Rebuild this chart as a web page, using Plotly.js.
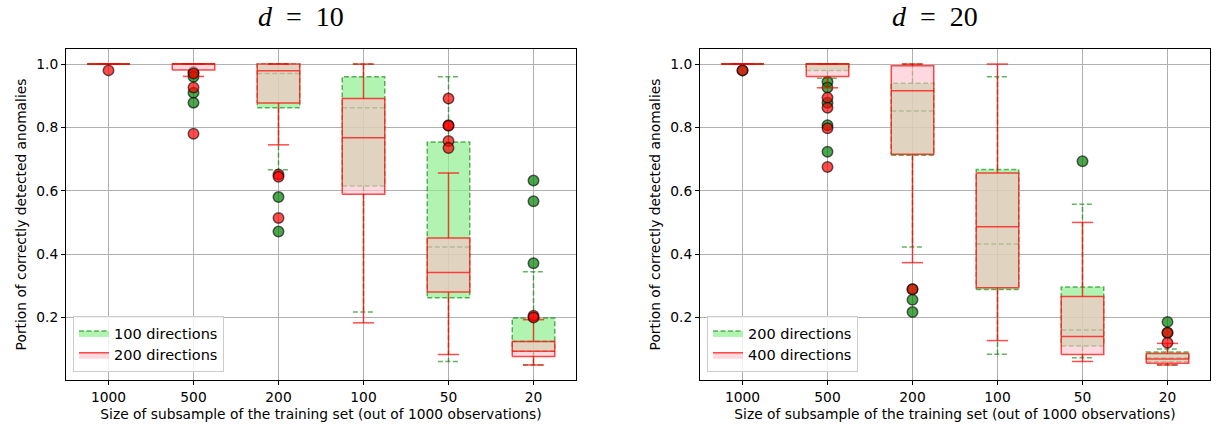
<!DOCTYPE html>
<html>
<head>
<meta charset="utf-8">
<script src="https://cdn.plot.ly/plotly-3.0.1.min.js"></script>
<style>html,body{margin:0;padding:0;background:#fff;}#chart{width:1219px;height:430px;}</style>
</head>
<body>
<div id="chart"></div>
<script>
// ---------- DATA ----------
const categories = ['1000', '500', '200', '100', '50', '20'];
const subplotTitles = ['<i>d</i>\u00a0\u00a0=\u00a0\u00a010', '<i>d</i>\u00a0\u00a0=\u00a0\u00a020'];
const seriesNames10 = ['100 directions', '200 directions'];
const seriesNames20 = ['200 directions', '400 directions'];

// d = 10, 100 directions (green)
const g10_q1  = [1.0, 1.0, 0.862, 0.615, 0.262, 0.093];
const g10_med = [1.0, 1.0, 0.970, 0.862, 0.422, 0.124];
const g10_q3  = [1.0, 1.0, 1.0, 0.960, 0.754, 0.198];
const g10_lo  = [1.0, 1.0, 0.666, 0.217, 0.061, 0.050];
const g10_hi  = [1.0, 1.0, 1.0, 1.0, 0.960, 0.344];
const g10_out = [[], [0.975, 0.960, 0.909, 0.878], [0.580, 0.471], [], [], [0.632, 0.567, 0.371]];

// d = 10, 200 directions (red)
const r10_q1  = [1.0, 0.981, 0.877, 0.589, 0.280, 0.077];
const r10_med = [1.0, 1.0, 0.979, 0.767, 0.342, 0.093];
const r10_q3  = [1.0, 1.0, 1.0, 0.891, 0.451, 0.124];
const r10_lo  = [1.0, 0.961, 0.745, 0.183, 0.083, 0.050];
const r10_hi  = [1.0, 1.0, 1.0, 1.0, 0.656, 0.193];
const r10_out = [[0.980], [0.970, 0.926, 0.780], [0.651, 0.644, 0.514], [], [0.891, 0.807, 0.805, 0.757, 0.735], [0.205, 0.200]];

// d = 20, 200 directions (green)
const g20_q1  = [1.0, 0.980, 0.712, 0.288, 0.110, 0.060];
const g20_med = [1.0, 1.0, 0.852, 0.432, 0.160, 0.072];
const g20_q3  = [1.0, 1.0, 0.939, 0.667, 0.296, 0.091];
const g20_lo  = [1.0, 0.955, 0.422, 0.084, 0.073, 0.050];
const g20_hi  = [1.0, 1.0, 1.0, 0.960, 0.557, 0.100];
const g20_out = [[0.980], [0.944, 0.926, 0.878, 0.807, 0.723], [0.289, 0.256, 0.217], [], [0.693], [0.186, 0.152]];

// d = 20, 400 directions (red)
const r20_q1  = [1.0, 0.961, 0.715, 0.294, 0.083, 0.055];
const r20_med = [1.0, 1.0, 0.916, 0.486, 0.140, 0.069];
const r20_q3  = [1.0, 1.0, 0.995, 0.656, 0.266, 0.086];
const r20_lo  = [1.0, 0.925, 0.373, 0.127, 0.061, 0.050];
const r20_hi  = [1.0, 1.0, 1.0, 1.0, 0.500, 0.118];
const r20_out = [[0.980], [0.894, 0.862, 0.797, 0.675], [0.289], [], [], [0.152, 0.120]];

const yTicks = [0.2, 0.4, 0.6, 0.8, 1.0];

// ---------- STYLES ----------
const GREEN = {
  fill: 'rgba(144,238,144,0.7)', line: 'rgba(0,128,0,0.6)', dash: '5px,2.5px',
  marker: 'rgba(0,128,0,0.7)', width: 1.5
};
const RED = {
  fill: 'rgba(255,192,203,0.6)', line: 'rgba(255,0,0,0.7)', dash: 'solid',
  marker: 'rgba(255,0,0,0.7)', width: 1.5
};
const HW = 0.25, CW = 0.125;

function seriesTraces(q1, med, q3, lo, hi, out, st, xa, ya, name, legend) {
  const bx = [], by = [], wx = [], wy = [], mx = [], my = [], ox = [], oy = [];
  categories.forEach((c, i) => {
    const p = i + 1;
    bx.push(p - HW, p + HW, p + HW, p - HW, p - HW, null);
    by.push(q1[i], q1[i], q3[i], q3[i], q1[i], null);
    wx.push(p, p, null, p, p, null, p - CW, p + CW, null, p - CW, p + CW, null);
    wy.push(q1[i], lo[i], null, q3[i], hi[i], null, lo[i], lo[i], null, hi[i], hi[i], null);
    mx.push(p - HW, p + HW, null);
    my.push(med[i], med[i], null);
    out[i].forEach(v => { ox.push(p); oy.push(v); });
  });
  const ln = {color: st.line, width: st.width, dash: st.dash};
  return [
    {type: 'scatter', mode: 'lines', x: bx, y: by, fill: 'toself', fillcolor: st.fill,
     line: ln, name: name, legend: legend, showlegend: true, xaxis: xa, yaxis: ya, hoverinfo: 'skip'},
    {type: 'scatter', mode: 'lines', x: wx, y: wy, line: ln, showlegend: false, xaxis: xa, yaxis: ya, hoverinfo: 'skip'},
    {type: 'scatter', mode: 'lines', x: mx, y: my, line: ln, showlegend: false, xaxis: xa, yaxis: ya, hoverinfo: 'skip'},
    {type: 'scatter', mode: 'markers', x: ox, y: oy, showlegend: false, xaxis: xa, yaxis: ya,
     marker: {size: 10.5, color: st.marker, line: {color: 'rgba(0,0,0,0.6)', width: 1.5}}, hoverinfo: 'skip'}
  ];
}

const data = [].concat(
  seriesTraces(g10_q1, g10_med, g10_q3, g10_lo, g10_hi, g10_out, GREEN, 'x', 'y', seriesNames10[0], 'legend'),
  seriesTraces(r10_q1, r10_med, r10_q3, r10_lo, r10_hi, r10_out, RED, 'x', 'y', seriesNames10[1], 'legend'),
  seriesTraces(g20_q1, g20_med, g20_q3, g20_lo, g20_hi, g20_out, GREEN, 'x2', 'y2', seriesNames20[0], 'legend2'),
  seriesTraces(r20_q1, r20_med, r20_q3, r20_lo, r20_hi, r20_out, RED, 'x2', 'y2', seriesNames20[1], 'legend2')
);

const W = 1219, H = 430;
const tickFont = {family: 'DejaVu Sans', size: 13.8, color: '#000'};
const xTitle = 'Size of subsample of the training set (out of 1000 observations)';
const yTitle = 'Portion of correctly detected anomalies';

function xAxis(dom, anchor) {
  return {
    domain: dom, anchor: anchor, range: [0.5, 6.5],
    tickmode: 'array', tickvals: categories.map((c, i) => i + 1), ticktext: categories,
    showgrid: true, gridcolor: '#b0b0b0', gridwidth: 1, zeroline: false,
    showline: true, mirror: true, linecolor: '#000', linewidth: 1,
    ticks: 'outside', ticklen: 4, tickcolor: '#000', tickfont: tickFont,
    title: {text: xTitle, font: tickFont, standoff: 5}
  };
}
function yAxis(anchor) {
  return {
    domain: [1 - 380 / H, 1 - 49 / H], anchor: anchor, range: [0.0025, 1.0475],
    tickmode: 'array', tickvals: yTicks, tickformat: '.1f',
    showgrid: true, gridcolor: '#b0b0b0', gridwidth: 1, zeroline: false,
    showline: true, mirror: true, linecolor: '#000', linewidth: 1,
    ticks: 'outside', ticklen: 4, tickcolor: '#000', tickfont: tickFont,
    title: {text: yTitle, font: tickFont, standoff: 6}
  };
}

const legendBase = {
  xanchor: 'left', yanchor: 'bottom', y: 1 - 372 / H,
  bgcolor: 'rgba(255,255,255,0.8)', bordercolor: '#cccccc', borderwidth: 1,
  font: {family: 'DejaVu Sans', size: 14.5, color: '#000'}, tracegroupgap: 0
};

const layout = {
  width: W, height: H, margin: {l: 0, r: 0, t: 0, b: 0},
  paper_bgcolor: '#fff', plot_bgcolor: '#fff', showlegend: true,
  xaxis: xAxis([66 / W, 576 / W], 'y'),
  yaxis: yAxis('x'),
  xaxis2: xAxis([700 / W, 1210 / W], 'y2'),
  yaxis2: yAxis('x2'),
  legend: Object.assign({}, legendBase, {x: 73 / W}),
  legend2: Object.assign({}, legendBase, {x: 707 / W}),
  annotations: [
    {text: subplotTitles[0], xref: 'paper', yref: 'paper', x: 301 / W, y: 1 - 16 / H,
     xanchor: 'center', yanchor: 'middle', showarrow: false,
     font: {family: 'Liberation Serif', size: 28, color: '#000'}},
    {text: subplotTitles[1], xref: 'paper', yref: 'paper', x: 935 / W, y: 1 - 16 / H,
     xanchor: 'center', yanchor: 'middle', showarrow: false,
     font: {family: 'Liberation Serif', size: 28, color: '#000'}}
  ]
};

Plotly.newPlot('chart', data, layout, {staticPlot: true, displayModeBar: false});
</script>
</body>
</html>
